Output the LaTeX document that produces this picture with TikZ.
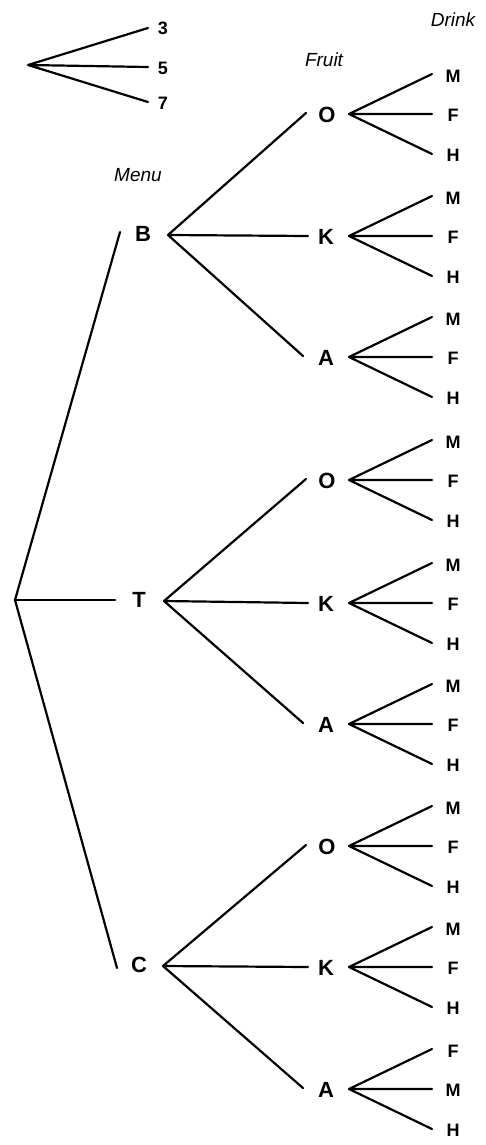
\documentclass[tikz,border=0pt]{standalone}
\usepackage{fontspec}
\setmainfont{Liberation Sans}
\begin{document}
\begin{tikzpicture}[x=1pt,y=-1pt,
  br/.style={line width=2.2pt,line cap=round},
  big/.style={font=\fontsize{22}{22}\selectfont\bfseries,inner sep=0pt},
  small/.style={font=\fontsize{18}{18}\selectfont\bfseries,inner sep=0pt},
  head/.style={font=\fontsize{19}{19}\selectfont\itshape,inner sep=0pt}]
\useasboundingbox (0,0) rectangle (485,1145);
% top fan
\coordinate (f0) at (28,65);
\coordinate (f3) at (148,28);
\coordinate (f5) at (148,67);
\coordinate (f7) at (148,102);
\node[small] (l3) at (163,28) {3};
\node[small] (l5) at (163,68) {5};
\node[small] (l7) at (163,103) {7};
\draw[br] (f0) -- (f3) (f0) -- (f5) (f0) -- (f7);
% headings
\node[head] (hd) at (453,20) {Drink};
\node[head] (hf) at (324,60) {Fruit};
\node[head] (hm) at (138,175) {Menu};
% root
\coordinate (r) at (15,600);
\foreach \nm/\lx/\ly/\px/\py/\ax/\ay in {B/120/232/143/234/168/235, T/115/600/139/600/164/601, C/117/968/139/965/163/966}{
  \coordinate (e\nm) at (\lx,\ly);
  \node[big] (m\nm) at (\px,\py) {\nm};
  \coordinate (a\nm) at (\ax,\ay);
  \draw[br] (r) -- (e\nm);
}
% fruit level
\foreach \g/\oy/\ky/\ay in {B/114/236/357, T/480/603/724, C/846/967/1089}{
  \coordinate (e\g O) at (306,\oy-1);
  \coordinate (e\g K) at (308,\ky);
  \coordinate (e\g A) at (303,\ay-1);
  \draw[br] (a\g) -- (e\g O) (a\g) -- (e\g K) (a\g) -- (e\g A);
  \node[big] (f\g O) at (327,\oy+1) {O};
  \node[big] (f\g K) at (326,\ky+1) {K};
  \node[big] (f\g A) at (326,\ay+1) {A};
}
% drink level
\foreach \g/\f/\y/\da/\db/\dc in {B/O/114/M/F/H, B/K/236/M/F/H, B/A/357/M/F/H,
  T/O/480/M/F/H, T/K/603/M/F/H, T/A/724/M/F/H,
  C/O/846/M/F/H, C/K/967/M/F/H, C/A/1089/F/M/H}{
  \coordinate (p\g\f) at (349,\y);
  \coordinate (u\g\f) at (432,\y-40);
  \coordinate (v\g\f) at (432,\y);
  \coordinate (w\g\f) at (432,\y+40);
  \draw[br] (p\g\f) -- (u\g\f) (p\g\f) -- (v\g\f) (p\g\f) -- (w\g\f);
  \node[small] (d\g\f1) at (453,\y-38) {\da};
  \node[small] (d\g\f2) at (453,\y+1) {\db};
  \node[small] (d\g\f3) at (453,\y+41) {\dc};
}
\end{tikzpicture}
\end{document}
